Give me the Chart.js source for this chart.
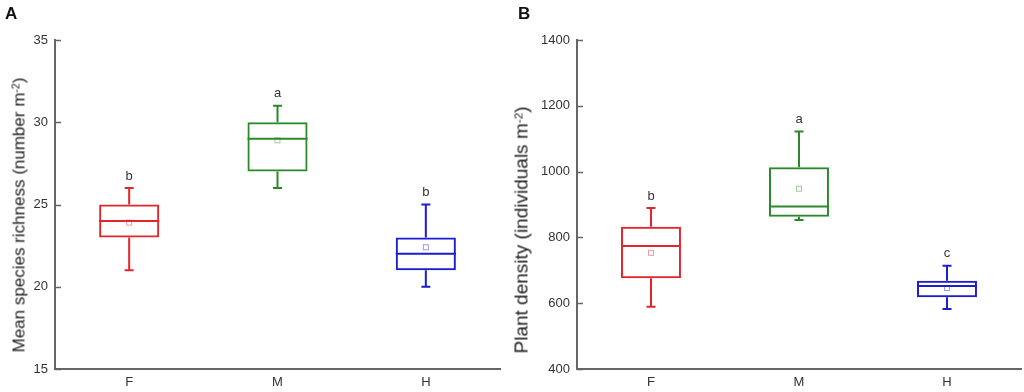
<!DOCTYPE html>
<html>
<head>
<meta charset="utf-8">
<script src="https://cdn.jsdelivr.net/npm/chart.js@4"></script>
<style>
  html, body { margin: 0; padding: 0; background: #fff; }
  body { width: 1024px; height: 392px; position: relative; overflow: hidden; font-family: "Liberation Sans", Arial, sans-serif; }
  .wrap { position: absolute; top: 0; height: 392px; }
  .panel { position: absolute; font-weight: bold; font-size: 17px; color: #111; line-height: 1; }
  .ytitle { position: absolute; white-space: nowrap; color: #222; transform: translate(-50%, -50%) rotate(-90deg); line-height: 1; }
  .ytitle sup { font-size: 0.62em; vertical-align: 0.45em; line-height: 0; }
</style>
</head>
<body>
<div class="wrap" style="left:0;width:512px;"><canvas id="chartA"></canvas></div>
<div class="wrap" style="left:500px;width:524px;"><canvas id="chartB"></canvas></div>
<div class="panel" style="left:5px;top:5px;">A</div>
<div class="panel" style="left:518px;top:5px;">B</div>
<div class="ytitle" style="left:19px;top:215px;font-size:17px;">Mean species richness (number m<sup>-2</sup>)</div>
<div class="ytitle" style="left:521px;top:230px;font-size:19px;">Plant density (individuals m<sup>-2</sup>)</div>
<script>
// ---------- data ----------
const categories = ['F', 'M', 'H'];

const richMin    = [21, 26, 20];
const richQ1     = [23, 27, 21];
const richMedian = [24, 29, 22];
const richQ3     = [25, 30, 23];
const richMax    = [26, 31, 25];
const richMean   = [23.9, 28.9, 22.4];
const richLetters = ['b', 'a', 'b'];
const richTicks  = [15, 20, 25, 30, 35];

const densMin    = [589, 853, 582];
const densQ1     = [676, 863, 618];
const densMedian = [774, 894, 652];
const densQ3     = [832, 1013, 668];
const densMax    = [889, 1122, 714];
const densMean   = [753, 948, 646];
const densLetters = ['b', 'a', 'c'];
const densTicks  = [400, 600, 800, 1000, 1200, 1400];

const boxColors  = ['#e3262b', '#2a8a2a', '#1c1cd0'];
const meanColors = ['rgba(227,38,43,0.45)', 'rgba(42,138,42,0.45)', 'rgba(28,28,208,0.45)'];

// ---------- box plot extras plugin (whiskers, medians, means, letters, inward ticks) ----------
const boxExtras = {
  id: 'boxExtras',
  afterDatasetsDraw(chart, args, opts) {
    const ctx = chart.ctx;
    const y = chart.scales.y;
    const meta = chart.getDatasetMeta(0);
    ctx.save();
    meta.data.forEach((bar, i) => {
      const cx = bar.x;
      const half = bar.width / 2;
      const col = boxColors[i];
      ctx.strokeStyle = col;
      ctx.lineWidth = 2;
      const pMin = y.getPixelForValue(opts.min[i]);
      const pQ1 = y.getPixelForValue(opts.q1[i]);
      const pQ3 = y.getPixelForValue(opts.q3[i]);
      const pMax = y.getPixelForValue(opts.max[i]);
      const pMed = y.getPixelForValue(opts.median[i]);
      ctx.beginPath();
      ctx.moveTo(cx, pQ3); ctx.lineTo(cx, pMax);
      ctx.moveTo(cx - 4.5, pMax); ctx.lineTo(cx + 4.5, pMax);
      ctx.moveTo(cx, pQ1); ctx.lineTo(cx, pMin);
      ctx.moveTo(cx - 4.5, pMin); ctx.lineTo(cx + 4.5, pMin);
      ctx.moveTo(cx - half, pMed); ctx.lineTo(cx + half, pMed);
      ctx.stroke();
      const pMean = y.getPixelForValue(opts.mean[i]);
      ctx.strokeStyle = meanColors[i];
      ctx.lineWidth = 1;
      ctx.strokeRect(cx - 2.5, pMean - 2.5, 5, 5);
      ctx.fillStyle = '#333';
      ctx.font = '13px "Liberation Sans", Arial, sans-serif';
      ctx.textAlign = 'center';
      ctx.textBaseline = 'middle';
      ctx.fillText(opts.letters[i], cx, pMax - 12);
    });
    const left = chart.chartArea.left;
    ctx.strokeStyle = '#666';
    ctx.lineWidth = 1.5;
    ctx.beginPath();
    y.ticks.forEach(t => {
      const py = Math.round(y.getPixelForValue(t.value)) + 0.5;
      ctx.moveTo(left, py); ctx.lineTo(left + 6, py);
    });
    ctx.stroke();
    ctx.restore();
  }
};

function makeChart(id, d, yMin, yMax, step, yWidth, rightPad) {
  return new Chart(document.getElementById(id), {
    type: 'bar',
    data: {
      labels: categories,
      datasets: [{
        data: categories.map((c, i) => [d.q1[i], d.q3[i]]),
        backgroundColor: 'rgba(0,0,0,0)',
        borderColor: boxColors,
        borderWidth: 2,
        borderSkipped: false,
        barPercentage: 0.405,
        categoryPercentage: 1.0
      }]
    },
    options: {
      responsive: true,
      maintainAspectRatio: false,
      animation: false,
      devicePixelRatio: 1,
      layout: { padding: { top: 40, right: rightPad, left: 0, bottom: 0 } },
      plugins: {
        legend: { display: false },
        tooltip: { enabled: false },
        boxExtras: d
      },
      scales: {
        x: {
          grid: { display: false, drawTicks: false },
          border: { display: true, color: '#666', width: 2 },
          ticks: { color: '#333', font: { size: 13, family: '"Liberation Sans", Arial, sans-serif' }, padding: 6 },
          afterFit: s => { s.height = 23; }
        },
        y: {
          min: yMin, max: yMax,
          grid: { display: false, drawTicks: false },
          border: { display: true, color: '#666', width: 2 },
          ticks: {
            stepSize: step, color: '#333',
            font: { size: 13, family: '"Liberation Sans", Arial, sans-serif' }, padding: 7,
            callback: v => String(v)
          },
          afterFit: s => { s.width = yWidth; }
        }
      }
    },
    plugins: [boxExtras]
  });
}

makeChart('chartA', { min: richMin, q1: richQ1, median: richMedian, q3: richQ3, max: richMax, mean: richMean, letters: richLetters },
  richTicks[0], richTicks[richTicks.length - 1], 5, 55, 12);
makeChart('chartB', { min: densMin, q1: densQ1, median: densMedian, q3: densQ3, max: densMax, mean: densMean, letters: densLetters },
  densTicks[0], densTicks[densTicks.length - 1], 200, 77, 3);
</script>
</body>
</html>
